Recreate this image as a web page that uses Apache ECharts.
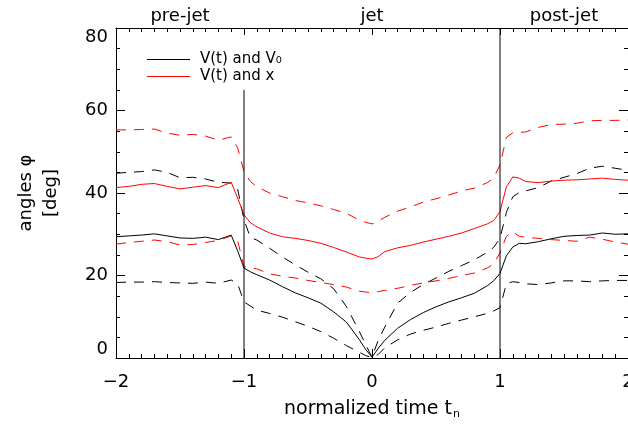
<!DOCTYPE html>
<html>
<head>
<meta charset="utf-8">
<script src="https://cdn.jsdelivr.net/npm/echarts@6/dist/echarts.min.js"></script>
<style>html,body{margin:0;padding:0;background:#fff}#c{width:628px;height:424px}</style>
</head>
<body>
<div id="c"></div>
<script>
// normalized time samples
const xs = [-2.0,-1.9,-1.8,-1.7,-1.6,-1.5,-1.4,-1.3,-1.2,-1.1,-1.05,-1.0,-0.95,-0.9,-0.8,-0.7,-0.6,-0.5,-0.4,-0.3,-0.2,-0.1,-0.05,0,0.05,0.1,0.2,0.3,0.4,0.5,0.6,0.7,0.8,0.9,0.95,1.0,1.05,1.1,1.15,1.2,1.3,1.4,1.5,1.6,1.7,1.8,1.9,2.0];
// V(t) and V0 : mean, upper, lower
const v0Mean  = [29.4,29.6,29.8,30.1,29.6,29.1,29.0,29.3,28.7,29.8,26.0,21.8,20.9,20.2,18.9,17.3,15.8,14.6,13.3,11.2,8.7,4.5,2.1,0.2,2.4,4.3,7.2,9.3,11.0,12.4,13.6,14.6,15.7,17.5,18.7,20.5,24.8,26.9,27.8,27.7,28.2,28.9,29.5,29.7,29.8,30.3,30.0,30.1];
const v0Upper = [44.8,45.0,45.2,45.6,45.0,43.7,43.8,43.4,42.6,42.4,41.0,33.5,29.2,28.6,26.6,24.5,22.6,20.8,19.2,16.8,12.5,6.5,3.3,0.2,4.4,7.5,13.3,15.9,17.8,19.4,21.0,22.4,23.8,25.6,26.8,29.0,35.3,39.1,40.1,40.5,41.3,42.9,43.8,44.7,46.0,46.5,46.0,45.5];
const v0Lower = [18.3,18.4,18.4,18.5,18.3,18.2,18.1,18.4,18.1,18.9,18.0,13.6,12.6,11.6,10.8,9.9,8.8,7.7,6.4,4.8,3.0,1.4,0.6,0.1,0.9,2.5,4.4,5.8,6.7,7.5,8.4,9.2,10.0,10.8,11.4,12.2,18.0,18.5,18.3,18.0,17.8,18.2,18.7,18.7,18.5,18.7,18.8,18.8];
// V(t) and x : mean, upper, lower
const xMean  = [41.3,41.6,42.1,42.3,41.6,41.0,41.4,41.8,41.3,42.6,38.8,34.7,32.8,31.8,30.3,29.4,29.0,28.5,27.8,26.8,25.7,24.5,24.2,24.0,24.6,25.8,26.7,27.3,28.1,28.8,29.5,30.3,31.4,32.5,33.3,35.5,41.5,43.9,43.6,42.8,42.5,42.9,43.1,43.2,43.4,43.6,43.3,43.1];
const xUpper = [55.3,55.3,55.4,55.5,54.5,54.0,54.2,53.8,52.8,53.6,51.0,45.2,42.8,41.5,40.0,39.1,38.2,37.6,36.9,36.0,35.1,33.4,32.9,32.5,33.2,34.1,35.6,36.6,37.8,38.6,39.5,40.5,41.2,42.5,43.6,46.8,53.5,54.6,54.7,54.8,55.9,56.6,56.7,56.9,57.5,57.6,57.6,57.7];
const xLower = [27.6,28.0,28.3,28.6,28.2,27.4,27.5,28.0,28.5,29.6,28.5,22.1,21.9,21.6,20.4,19.8,19.4,18.8,18.3,17.8,17.2,16.2,16.0,15.8,16.1,16.4,16.9,17.6,18.2,18.7,19.3,20.0,20.6,21.8,22.8,25.5,29.5,30.6,29.5,29.3,29.0,28.7,28.5,28.3,29.3,28.8,28.1,27.6];
// phase boundaries and their line tops
const boundaryX = [-1, 1];
const boundaryTop = [65, 80];
// phase labels on top axis
const phasePos = [-1.5, 0, 1.5];
const phaseNames = ['pre-jet', 'jet', 'post-jet'];
const seriesNames = ['V(t) and V\u2080', 'V(t) and x'];

const FONT = 'DejaVu Sans';
const pair = arr => xs.map((x, i) => [x, arr[i]]);
const minus = v => (v < 0 ? '\u2212' + Math.abs(v) : String(v));

function lineSeries(name, data, color, dashed) {
  return {
    type: 'line', name: name, data: pair(data), symbol: 'none', silent: true,
    animation: false, smooth: false,
    lineStyle: { color: color, width: 1, type: dashed ? [10, 8] : 'solid' },
    itemStyle: { color: color }
  };
}

const series = [
  lineSeries(seriesNames[0], v0Mean, '#000000', false),
  lineSeries('v0u', v0Upper, '#000000', true),
  lineSeries('v0l', v0Lower, '#000000', true),
  lineSeries(seriesNames[1], xMean, '#ff0000', false),
  lineSeries('xu', xUpper, '#ff0000', true),
  lineSeries('xl', xLower, '#ff0000', true)
];
boundaryX.forEach((bx, i) => {
  series.push({
    type: 'line', name: 'b' + i, data: [[bx, 0], [bx, boundaryTop[i]]],
    symbol: 'none', silent: true, animation: false,
    lineStyle: { color: '#000', width: 1 }
  });
});

const axisLine = { show: true, onZero: false, lineStyle: { color: '#000', width: 1 } };

const chart = echarts.init(document.getElementById('c'), null, { renderer: 'canvas' });
chart.setOption({
  animation: false,
  backgroundColor: '#fff',
  grid: { left: 116, top: 28, right: 0, bottom: 66, containLabel: false, outerBoundsMode: 'none' },
  legend: {
    show: true,
    data: seriesNames,
    orient: 'vertical', left: 142, top: 46, right: 'auto',
    icon: 'rect', itemWidth: 43, itemHeight: 1, itemGap: 0,
    selectedMode: false,
    textStyle: { fontFamily: FONT, fontSize: 15, color: '#000', padding: [0, 0, 0, 5], lineHeight: 17 }
  },
  xAxis: [
    {
      type: 'value', position: 'bottom', min: -2, max: 2, interval: 1,
      axisLine: axisLine, splitLine: { show: false },
      axisTick: { show: true, inside: true, length: 9, lineStyle: { color: '#000' } },
      minorTick: { show: true, splitNumber: 10, length: 4, lineStyle: { color: '#000' } },
      axisLabel: { fontFamily: FONT, fontSize: 18, color: '#000', margin: 15, formatter: minus },
      name: 'normalized time t{sub|n}', nameLocation: 'middle', nameGap: 41,
      nameTextStyle: { fontFamily: FONT, fontSize: 19, color: '#000',
        rich: { sub: { fontFamily: FONT, fontSize: 11, color: '#000', verticalAlign: 'bottom', padding: [10, 0, 0, 1] } } }
    },
    {
      type: 'value', position: 'top', min: -2, max: 2, interval: 1,
      axisLine: axisLine, splitLine: { show: false },
      axisTick: { show: true, inside: true, length: 7, lineStyle: { color: '#000' } },
      minorTick: { show: true, splitNumber: 10, length: 4, lineStyle: { color: '#000' } },
      axisLabel: { show: true, customValues: phasePos, fontFamily: FONT, fontSize: 18, color: '#000', margin: 3,
        formatter: v => { const k = phasePos.indexOf(v); return k >= 0 ? phaseNames[k] : ''; } }
    }
  ],
  yAxis: [
    {
      type: 'value', position: 'left', min: 0, max: 80, interval: 20,
      axisLine: axisLine, splitLine: { show: false },
      axisTick: { show: true, inside: true, length: 9, lineStyle: { color: '#000' } },
      minorTick: { show: true, splitNumber: 4, length: 4, lineStyle: { color: '#000' } },
      axisLabel: { fontFamily: FONT, fontSize: 18, color: '#000', margin: 8,
        verticalAlignMinLabel: 'bottom', verticalAlignMaxLabel: 'top' },
      name: 'angles \u03c6\n[deg]', nameLocation: 'middle', nameRotate: 90, nameGap: 52,
      nameTextStyle: { fontFamily: FONT, fontSize: 18, color: '#000', lineHeight: 25 }
    },
    {
      type: 'value', position: 'right', min: 0, max: 80, interval: 20,
      axisLine: axisLine, splitLine: { show: false },
      axisTick: { show: true, inside: true, length: 9, lineStyle: { color: '#000' } },
      minorTick: { show: true, splitNumber: 4, length: 4, lineStyle: { color: '#000' } },
      axisLabel: { show: false }
    }
  ],
  series: series
});
</script>
</body>
</html>
